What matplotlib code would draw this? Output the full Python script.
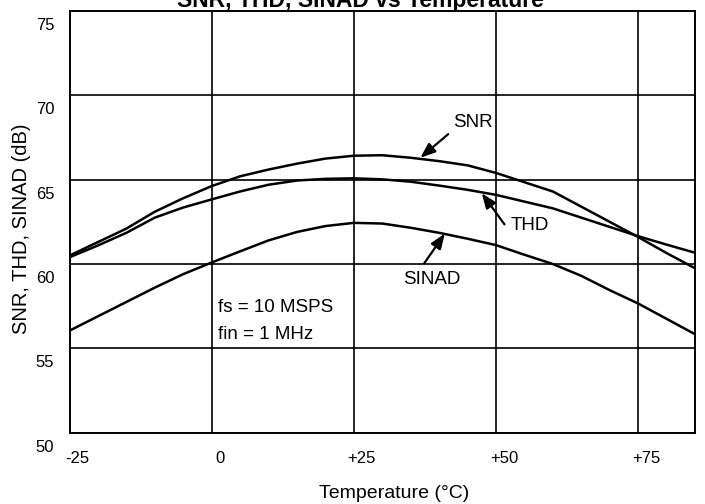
import matplotlib
matplotlib.use("Agg")
import matplotlib.pyplot as plt
from matplotlib.transforms import ScaledTranslation

plt.rcParams['font.family'] = ['Liberation Sans', 'DejaVu Sans']

# Data
temperature = [-25, -20, -15, -10, -5, 0, 5, 10, 15, 20, 25, 30, 35, 40, 45,
               50, 55, 60, 65, 70, 75, 80, 85]
snr = [60.5, 61.3, 62.1, 63.1, 63.9, 64.62, 65.2, 65.6, 65.95, 66.25, 66.42,
       66.45, 66.3, 66.1, 65.85, 65.4, 64.85, 64.3, 63.4, 62.5, 61.6, 60.65, 59.75]
thd = [60.4, 61.1, 61.85, 62.75, 63.35, 63.83, 64.3, 64.7, 64.95, 65.05, 65.08,
       65.02, 64.88, 64.65, 64.4, 64.1, 63.7, 63.3, 62.75, 62.2, 61.65, 61.15, 60.67]
sinad = [56.05, 56.9, 57.75, 58.6, 59.4, 60.09, 60.75, 61.4, 61.9, 62.25, 62.44,
         62.4, 62.15, 61.85, 61.5, 61.12, 60.55, 60.0, 59.3, 58.45, 57.66, 56.75, 55.84]

x_ticks = [-25, 0, 25, 50, 75]
x_tick_labels = ['-25', '0', '+25', '+50', '+75']
y_ticks = [50, 55, 60, 65, 70, 75]
y_tick_labels = ['50', '55', '60', '65', '70', '75']

fig = plt.figure(figsize=(7.05, 5.04), dpi=100)
ax = fig.add_axes([69.5 / 705, 1 - 432.7 / 504, (695 - 69.5) / 705, (432.7 - 11) / 504])

for s in (snr, thd, sinad):
    ax.plot(temperature, s, color='black', lw=1.8, solid_capstyle='butt',
            solid_joinstyle='round')

ax.set_xlim(-25, 85)
ax.set_ylim(50, 75)
ax.set_xticks(x_ticks)
ax.set_xticklabels(x_tick_labels)
ax.set_yticks(y_ticks)
ax.set_yticklabels(y_tick_labels)
ax.grid(True, color='black', lw=1.2)
ax.set_axisbelow(True)
for sp in ax.spines.values():
    sp.set_linewidth(1.4)
    sp.set_color('black')
ax.tick_params(length=0, labelsize=12, colors='black')
ax.tick_params(axis='x', pad=13)
ax.tick_params(axis='y', pad=11)

for lab in ax.get_xticklabels():
    lab.set_transform(lab.get_transform() + ScaledTranslation(8 / 100, 0, fig.dpi_scale_trans))
for lab in ax.get_yticklabels():
    lab.set_transform(lab.get_transform() + ScaledTranslation(0, -13 / 100, fig.dpi_scale_trans))

# Axis labels
fig.text(394 / 705, 1 - 493 / 504, 'Temperature (°C)', ha='center', va='center', fontsize=14)
fig.text(22 / 705, 1 - 229 / 504, 'SNR, THD, SINAD (dB)', ha='center', va='center',
         rotation=90, fontsize=14.5)

# Title (cut at top as in reference)
fig.text(360 / 705, 1 - 7 / 504, 'SNR, THD, SINAD vs Temperature', ha='center',
         va='baseline', fontsize=16.5, fontweight='bold')

# Annotations
arrow = dict(arrowstyle='-|>,head_length=0.9,head_width=0.35', color='black', lw=1.6,
             shrinkA=0, shrinkB=0)
ax.annotate('', xy=(36.7, 66.3), xytext=(41.6, 67.7), arrowprops=arrow)
ax.text(42.5, 68.4, 'SNR', fontsize=13.5, ha='left', va='center')
ax.annotate('', xy=(47.5, 64.2), xytext=(51.5, 62.35), arrowprops=arrow)
ax.text(52.5, 62.3, 'THD', fontsize=13.5, ha='left', va='center')
ax.annotate('', xy=(41.0, 61.8), xytext=(37.4, 60.05), arrowprops=arrow)
ax.text(38.8, 59.1, 'SINAD', fontsize=13.5, ha='center', va='center')

ax.text(1.2, 57.4, 'fs = 10 MSPS', fontsize=13.5, ha='left', va='center')
ax.text(1.2, 55.85, 'fin = 1 MHz', fontsize=13.5, ha='left', va='center')

fig.savefig('out.png', dpi=100)
